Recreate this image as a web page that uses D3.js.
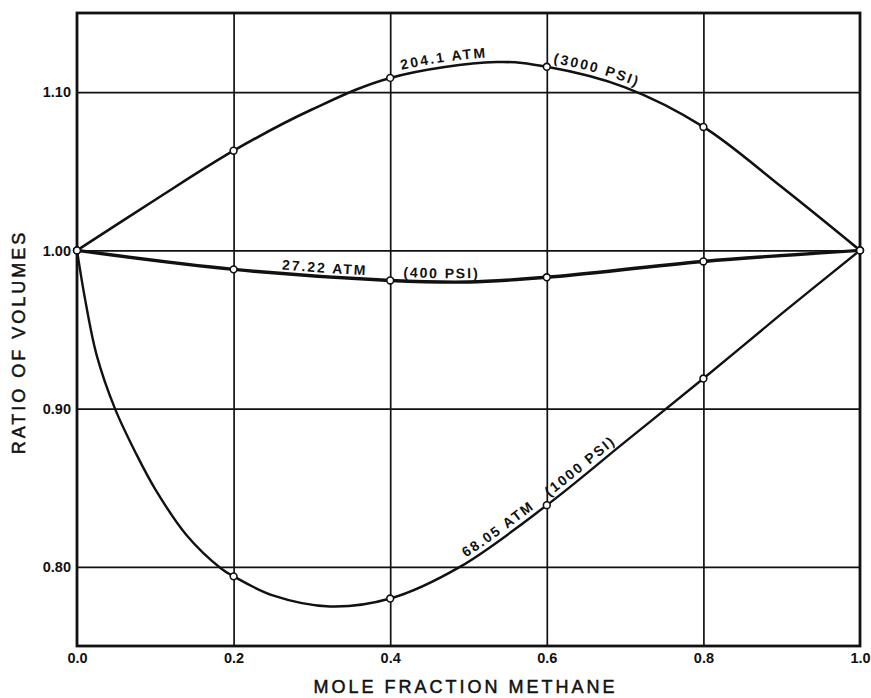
<!DOCTYPE html>
<html>
<head>
<meta charset="utf-8">
<script src="https://cdn.jsdelivr.net/npm/d3@7"></script>
<style>
  html, body { margin: 0; padding: 0; background: #fff; }
  svg { display: block; }
  .tick text { font-family: "Liberation Sans", Arial, sans-serif; font-weight: bold; fill: #111; }
</style>
</head>
<body>
<svg id="chart" width="871" height="698"></svg>
<script>
// Axis ticks
const xTicks = [0.0, 0.2, 0.4, 0.6, 0.8, 1.0];
const xTickLabels = ["0.0", "0.2", "0.4", "0.6", "0.8", "1.0"];
const yTicks = [0.80, 0.90, 1.00, 1.10];
const yTickLabels = ["0.80", "0.90", "1.00", "1.10"];

// Measured points (mole fraction methane, ratio of volumes)
const molFraction = [0.0, 0.2, 0.4, 0.6, 0.8, 1.0];
const ratio204 = [1.000, 1.063, 1.109, 1.116, 1.078, 1.000];
const ratio27 = [1.000, 0.988, 0.981, 0.983, 0.993, 1.000];
const ratio68 = [1.000, 0.794, 0.780, 0.839, 0.919, 1.000];

// Smoothed curves drawn through the measurements
const curve204X = [0.0, 0.1, 0.2, 0.3, 0.4, 0.536, 0.6, 0.7, 0.8, 0.9, 1.0];
const curve204Y = [1.000, 1.032, 1.063, 1.089, 1.109, 1.119, 1.116, 1.103, 1.078, 1.040, 1.000];
const curve27X = [0.0, 0.2, 0.4, 0.5, 0.6, 0.8, 1.0];
const curve27Y = [1.000, 0.988, 0.981, 0.980, 0.983, 0.993, 1.000];
const curve68X = [0.0, 0.01, 0.025, 0.0485, 0.075, 0.1, 0.14, 0.184, 0.2, 0.25, 0.323, 0.4, 0.489, 0.6, 0.7, 0.8, 0.9, 1.0];
const curve68Y = [1.000, 0.970, 0.934, 0.900, 0.872, 0.849, 0.820, 0.799, 0.794, 0.782, 0.775, 0.780, 0.800, 0.839, 0.879, 0.919, 0.960, 1.000];

// Curve labels: text and the mole fraction where each starts
const labelText = ["204.1 ATM", "(3000 PSI)", "27.22 ATM", "(400 PSI)", "68.05 ATM", "(1000 PSI)"];
const labelCurve = [0, 0, 1, 1, 2, 2];
const labelStart = [0.416, 0.607, 0.261, 0.416, 0.5, 0.607];

const xTitle = "MOLE FRACTION METHANE";
const yTitle = "RATIO OF VOLUMES";

const W = 871, H = 698;
const margin = { top: 13, right: 11, bottom: 52, left: 77 };
const iw = W - margin.left - margin.right;
const ih = H - margin.top - margin.bottom;
const ink = "#111";

const svg = d3.select("#chart");
const g = svg.append("g").attr("transform", `translate(${margin.left},${margin.top})`);

const x = d3.scaleLinear().domain([0, 1]).range([0, iw]);
const y = d3.scaleLinear().domain([0.75, 1.15]).range([ih, 0]);

// Grid lines
g.append("g")
  .attr("transform", `translate(0,${ih})`)
  .call(d3.axisBottom(x).tickValues(xTicks.slice(1, -1)).tickSize(-ih).tickFormat(""))
  .call(s => s.select(".domain").remove())
  .call(s => s.selectAll("line").attr("stroke", ink).attr("stroke-width", 1.7));
g.append("g")
  .call(d3.axisLeft(y).tickValues(yTicks).tickSize(-iw).tickFormat(""))
  .call(s => s.select(".domain").remove())
  .call(s => s.selectAll("line").attr("stroke", ink).attr("stroke-width", 1.7));

// Tick labels
g.append("g")
  .attr("transform", `translate(0,${ih})`)
  .call(d3.axisBottom(x).tickValues(xTicks).tickSize(0).tickPadding(7)
    .tickFormat((d, i) => xTickLabels[i]))
  .call(s => s.select(".domain").remove())
  .call(s => s.selectAll("text").attr("font-size", 14.5));
g.append("g")
  .call(d3.axisLeft(y).tickValues(yTicks).tickSize(0).tickPadding(6)
    .tickFormat((d, i) => yTickLabels[i]))
  .call(s => s.select(".domain").remove())
  .call(s => s.selectAll("text").attr("font-size", 14.5));

// Frame
g.append("rect")
  .attr("x", 0).attr("y", 0).attr("width", iw).attr("height", ih)
  .attr("fill", "none").attr("stroke", ink).attr("stroke-width", 2.8);

// Curves
const line = d3.line().x(d => x(d[0])).y(d => y(d[1])).curve(d3.curveCatmullRom.alpha(0.5));
const curves = [
  { xs: curve204X, ys: curve204Y, w: 2.6 },
  { xs: curve27X, ys: curve27Y, w: 3.4 },
  { xs: curve68X, ys: curve68Y, w: 2.4 }
];
const paths = curves.map((c, i) =>
  g.append("path")
    .attr("id", "curve" + i)
    .attr("d", line(c.xs.map((v, j) => [v, c.ys[j]])))
    .attr("fill", "none")
    .attr("stroke", ink)
    .attr("stroke-width", c.w)
    .attr("stroke-linejoin", "round")
    .node()
);

// Markers
[ratio204, ratio27, ratio68].forEach(series => {
  g.append("g").selectAll("circle")
    .data(molFraction.map((v, j) => [v, series[j]]))
    .join("circle")
    .attr("cx", d => x(d[0]))
    .attr("cy", d => y(d[1]))
    .attr("r", 3.4)
    .attr("fill", "#fff")
    .attr("stroke", ink)
    .attr("stroke-width", 1.6);
});

// Arc length along a path at which it reaches a given horizontal position
function lengthAtX(path, px) {
  let lo = 0, hi = path.getTotalLength();
  for (let k = 0; k < 40; k++) {
    const mid = (lo + hi) / 2;
    if (path.getPointAtLength(mid).x < px) lo = mid; else hi = mid;
  }
  return lo;
}

// Curve labels set along the curves
labelText.forEach((t, i) => {
  const p = paths[labelCurve[i]];
  g.append("text")
    .attr("font-family", "Liberation Sans, Arial, sans-serif")
    .attr("font-weight", "bold")
    .attr("font-size", 14)
    .attr("letter-spacing", 2)
    .attr("fill", ink)
    .attr("dy", labelCurve[i] === 1 ? -4 : -5)
    .append("textPath")
    .attr("href", "#curve" + labelCurve[i])
    .attr("startOffset", lengthAtX(p, x(labelStart[i])))
    .text(t);
});

// Axis titles
svg.append("text")
  .attr("x", margin.left + iw / 2 - 3)
  .attr("y", 693)
  .attr("text-anchor", "middle")
  .attr("font-family", "Liberation Sans, Arial, sans-serif")
  .attr("font-size", 18)
  .attr("letter-spacing", 3)
  .attr("fill", ink)
  .attr("stroke", ink)
  .attr("stroke-width", 0.5)
  .text(xTitle);

svg.append("text")
  .attr("transform", `translate(25,${342}) rotate(-90)`)
  .attr("text-anchor", "middle")
  .attr("font-family", "Liberation Sans, Arial, sans-serif")
  .attr("font-size", 18)
  .attr("letter-spacing", 3)
  .attr("fill", ink)
  .attr("stroke", ink)
  .attr("stroke-width", 0.5)
  .text(yTitle);
</script>
</body>
</html>
